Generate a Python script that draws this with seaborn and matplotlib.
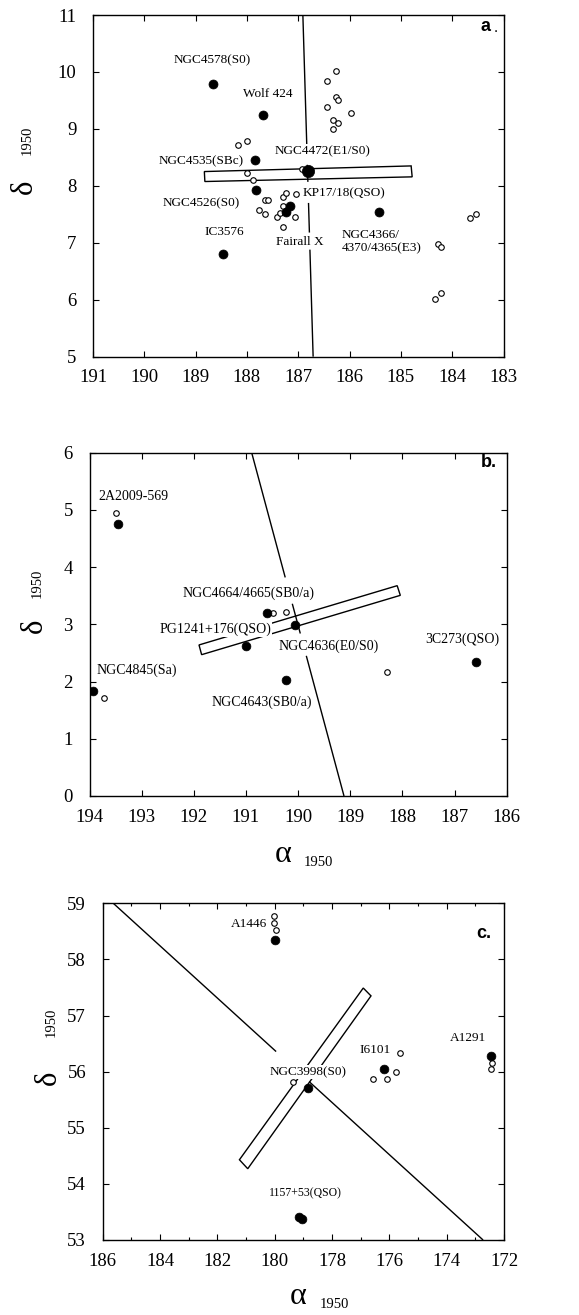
import numpy as np
import pandas as pd
import matplotlib
matplotlib.use("Agg")
import matplotlib.pyplot as plt
import seaborn as sns

# ---------------- data ----------------
# Panel a
A_FILLED_X = [188.66, 187.69, 187.85, 187.82, 186.81, 187.16, 187.24, 185.43, 188.46]
A_FILLED_Y = [9.79, 9.24, 8.46, 7.92, 8.26, 7.65, 7.54, 7.54, 6.80]
A_FILLED_KIND = ["gal", "gal", "gal", "gal", "big", "gal", "gal", "gal", "gal"]
A_OPEN_X = [186.27, 186.44, 186.27, 186.22, 186.44, 185.98, 186.32, 186.22, 186.32,
            183.65, 183.53, 184.28, 184.21, 184.33, 184.21,
            188.17, 188.00, 188.00, 187.88, 187.64, 187.59, 187.76, 187.65, 187.29,
            187.24, 187.42, 187.35, 187.29, 187.07, 187.29, 187.04, 186.92]
A_OPEN_Y = [10.02, 9.84, 9.56, 9.50, 9.38, 9.28, 9.16, 9.10, 8.99,
            7.44, 7.50, 6.98, 6.92, 6.01, 6.11,
            8.72, 8.78, 8.22, 8.10, 7.75, 7.75, 7.57, 7.51, 7.81,
            7.87, 7.46, 7.52, 7.64, 7.46, 7.28, 7.86, 8.29]
A_LABELS = ["NGC4578(S0)", "Wolf 424", "NGC4535(SBc)", "NGC4472(E1/S0)", "NGC4526(S0)",
            "KP17/18(QSO)", "IC3576", "Fairall X"]
A_LABEL_X = [188.67, 187.60, 188.90, 186.53, 188.90, 186.11, 188.45, 186.97]
A_LABEL_Y = [10.21, 9.61, 8.44, 8.61, 7.70, 7.87, 7.19, 7.01]
A_SLIT_X = [188.83, 184.80, 184.78, 188.82]
A_SLIT_Y = [8.251, 8.350, 8.158, 8.076]
A_AXIS_X = [186.91, 186.71]
A_AXIS_Y = [11.0, 5.0]
A_AXIS_GAPS = [(8.72, 8.37), (8.07, 7.70), (7.18, 6.88)]

# Panel b
B_FILLED_X = [193.46, 190.60, 190.06, 191.00, 186.59, 193.94, 190.24]
B_FILLED_Y = [4.75, 3.20, 2.98, 2.62, 2.35, 1.83, 2.03]
B_OPEN_X = [193.49, 190.49, 190.23, 193.72, 188.29]
B_OPEN_Y = [4.95, 3.20, 3.21, 1.71, 2.17]
B_LABELS = ["2A2009-569", "NGC4664/4665(SB0/a)", "PG1241+176(QSO)", "NGC4636(E0/S0)",
            "3C273(QSO)", "NGC4845(Sa)", "NGC4643(SB0/a)"]
B_LABEL_X = [193.16, 190.95, 191.59, 189.42, 186.86, 193.09, 190.70]
B_LABEL_Y = [5.23, 3.55, 2.91, 2.61, 2.74, 2.19, 1.64]
B_SLIT_X = [191.90, 188.10, 188.04, 191.85]
B_SLIT_Y = [2.640, 3.676, 3.507, 2.470]
B_AXIS_X = [190.89, 189.12]
B_AXIS_Y = [6.0, 0.0]
B_AXIS_GAPS = [(3.82, 3.36), (2.84, 2.45)]

# Panel c
C_FILLED_X = [179.98, 176.17, 172.47, 178.83, 179.15, 179.04]
C_FILLED_Y = [58.34, 56.05, 56.28, 55.71, 53.41, 53.37]
C_OPEN_X = [180.02, 180.02, 179.95, 175.63, 176.58, 176.07, 175.78, 172.42, 172.45, 179.37]
C_OPEN_Y = [58.77, 58.65, 58.53, 56.33, 55.87, 55.87, 55.99, 56.15, 56.05, 55.81]
C_LABELS = ["A1446", "I6101", "A1291", "NGC3998(S0)", "1157+53(QSO)"]
C_LABEL_X = [180.88, 176.48, 173.24, 178.83, 178.92]
C_LABEL_Y = [58.64, 56.39, 56.60, 55.99, 53.84]
C_SLIT_X = [181.23, 176.91, 176.64, 180.94]
C_SLIT_Y = [54.43, 57.49, 57.35, 54.27]
C_AXIS_X = [185.63, 172.73]
C_AXIS_Y = [59.0, 53.0]
C_AXIS_GAPS_X = [(179.95, 178.80)]

# ---------------- style ----------------
sns.set_theme(style="ticks", rc={
    "axes.edgecolor": "black", "xtick.color": "black", "ytick.color": "black",
    "text.color": "black", "axes.labelcolor": "black", "axes.linewidth": 1.0,
})
plt.rcParams["font.family"] = ["Liberation Serif", "DejaVu Serif"]
plt.rcParams["mathtext.fontset"] = "stix"

fig = plt.figure(figsize=(5.79, 13.15), dpi=100)
W, H = 579.0, 1315.0


def add_axes_px(left, top, right, bottom):
    return fig.add_axes([left / W, 1 - bottom / H, (right - left) / W, (bottom - top) / H])


ax_a = add_axes_px(93, 15, 503.5, 356.7)
ax_b = add_axes_px(89.5, 452.7, 506.7, 796)
ax_c = add_axes_px(102.7, 903.3, 504, 1240)

LABEL_BOX = dict(facecolor="white", edgecolor="none", pad=0.8)


def broken_line(ax, xs, ys, gaps, by="y"):
    (x0, x1), (y0, y1) = xs, ys
    r0, r1 = (y0, y1) if by == "y" else (x0, x1)
    ts = sorted(tuple(sorted(((g0 - r0) / (r1 - r0), (g1 - r0) / (r1 - r0)))) for g0, g1 in gaps)
    start = 0.0
    pieces = []
    for ta, tb in ts:
        pieces.append((start, ta))
        start = tb
    pieces.append((start, 1.0))
    for ta, tb in pieces:
        ax.plot([x0 + (x1 - x0) * ta, x0 + (x1 - x0) * tb],
                [y0 + (y1 - y0) * ta, y0 + (y1 - y0) * tb],
                color="black", lw=1.0, zorder=2, solid_capstyle="butt")


def slit(ax, xs, ys):
    ax.fill(xs, ys, facecolor="none", edgecolor="black", lw=1.0, zorder=2)


def points(ax, fx, fy, ox, oy, fsize=None):
    dfo = pd.DataFrame({"x": ox, "y": oy})
    sns.scatterplot(data=dfo, x="x", y="y", ax=ax, marker="o", s=16,
                    facecolor="white", edgecolor="black", linewidth=0.8, zorder=3)
    dff = pd.DataFrame({"x": fx, "y": fy})
    if fsize is None:
        fsize = [40] * len(fx)
    dff["s"] = fsize
    for s_val, grp in dff.groupby("s"):
        sns.scatterplot(data=grp, x="x", y="y", ax=ax, marker="o", s=s_val,
                        color="black", edgecolor="black", linewidth=0.5, zorder=4)


def labels(ax, texts, xs, ys, size=9.5):
    for t, x, y in zip(texts, xs, ys):
        ax.text(x, y, t, ha="center", va="center", fontsize=size, bbox=LABEL_BOX, zorder=5)


def style_axes(ax, xlim, ylim, xmaj, ymaj, xminor=None):
    ax.set_xlim(*xlim)
    ax.set_ylim(*ylim)
    ax.set_xticks(xmaj)
    ax.set_yticks(ymaj)
    if xminor is not None:
        ax.set_xticks(xminor, minor=True)
    ax.tick_params(which="major", direction="in", top=True, right=True,
                   length=4.5, width=0.8, labelsize=13.5)
    ax.tick_params(which="minor", direction="in", top=True, right=True,
                   length=2.5, width=0.8)
    ax.tick_params(axis="x", which="major", pad=9)
    ax.tick_params(axis="y", which="major", pad=12)
    ax.set_xlabel("")
    ax.set_ylabel("")
    for sp in ax.spines.values():
        sp.set_visible(True)
        sp.set_linewidth(1.0)
        sp.set_color("black")


# ---------------- panel a ----------------
size_map = {"gal": 42, "big": 78}
broken_line(ax_a, A_AXIS_X, A_AXIS_Y, A_AXIS_GAPS)
slit(ax_a, A_SLIT_X, A_SLIT_Y)
points(ax_a, A_FILLED_X, A_FILLED_Y, A_OPEN_X, A_OPEN_Y,
       [size_map[k] for k in A_FILLED_KIND])
labels(ax_a, A_LABELS, A_LABEL_X, A_LABEL_Y)
ax_a.text(186.16, 7.02, "NGC4366/\n4370/4365(E3)", ha="left", va="center",
          fontsize=9.5, multialignment="left", linespacing=1.15, bbox=LABEL_BOX, zorder=5)
ax_a.text(183.35, 10.8, "a", ha="center", va="center", fontsize=13,
          fontweight="bold", family=["Liberation Sans", "DejaVu Sans"])
ax_a.text(183.2, 10.77, ".", ha="left", va="center", fontsize=11,
          family=["Liberation Sans", "DejaVu Sans"])
style_axes(ax_a, (191, 183), (5, 11), np.arange(183, 192, 1), np.arange(5, 12, 1))

# ---------------- panel b ----------------
broken_line(ax_b, B_AXIS_X, B_AXIS_Y, B_AXIS_GAPS)
slit(ax_b, B_SLIT_X, B_SLIT_Y)
points(ax_b, B_FILLED_X, B_FILLED_Y, B_OPEN_X, B_OPEN_Y)
labels(ax_b, B_LABELS, B_LABEL_X, B_LABEL_Y, size=10)
ax_b.text(186.35, 5.83, "b.", ha="center", va="center", fontsize=13,
          fontweight="bold", family=["Liberation Sans", "DejaVu Sans"])
style_axes(ax_b, (194, 186), (0, 6), np.arange(186, 195, 1), np.arange(0, 7, 1))

# ---------------- panel c ----------------
broken_line(ax_c, C_AXIS_X, C_AXIS_Y, C_AXIS_GAPS_X, by="x")
slit(ax_c, C_SLIT_X, C_SLIT_Y)
points(ax_c, C_FILLED_X, C_FILLED_Y, C_OPEN_X, C_OPEN_Y)
labels(ax_c, C_LABELS[:4], C_LABEL_X[:4], C_LABEL_Y[:4])
labels(ax_c, C_LABELS[4:], C_LABEL_X[4:], C_LABEL_Y[4:], size=8.5)
ax_c.text(172.72, 58.46, "c.", ha="center", va="center", fontsize=13,
          fontweight="bold", family=["Liberation Sans", "DejaVu Sans"])
style_axes(ax_c, (186, 172), (53, 59), np.arange(172, 187, 2), np.arange(53, 60, 1),
           xminor=np.arange(173, 186, 2))

# ---------------- axis titles (delta / alpha with 1950) ----------------
def ytitle(xc, yc_delta, yc_year):
    fig.text(xc / W, 1 - yc_delta / H, "δ", rotation=90, ha="center", va="center", fontsize=22)
    fig.text((xc + 3) / W, 1 - yc_year / H, "1950", rotation=90, ha="center", va="center",
             fontsize=10.5)


def xtitle(xc_alpha, yc, xc_year):
    fig.text(xc_alpha / W, 1 - yc / H, "α", ha="center", va="center", fontsize=23)
    fig.text(xc_year / W, 1 - (yc + 8) / H, "1950", ha="center", va="center", fontsize=10.5)


ytitle(24, 187, 140)
ytitle(34, 626, 583)
ytitle(48, 1078, 1022)
xtitle(283, 854, 318)
xtitle(298, 1297, 334)

fig.savefig("out.png", dpi=100)
